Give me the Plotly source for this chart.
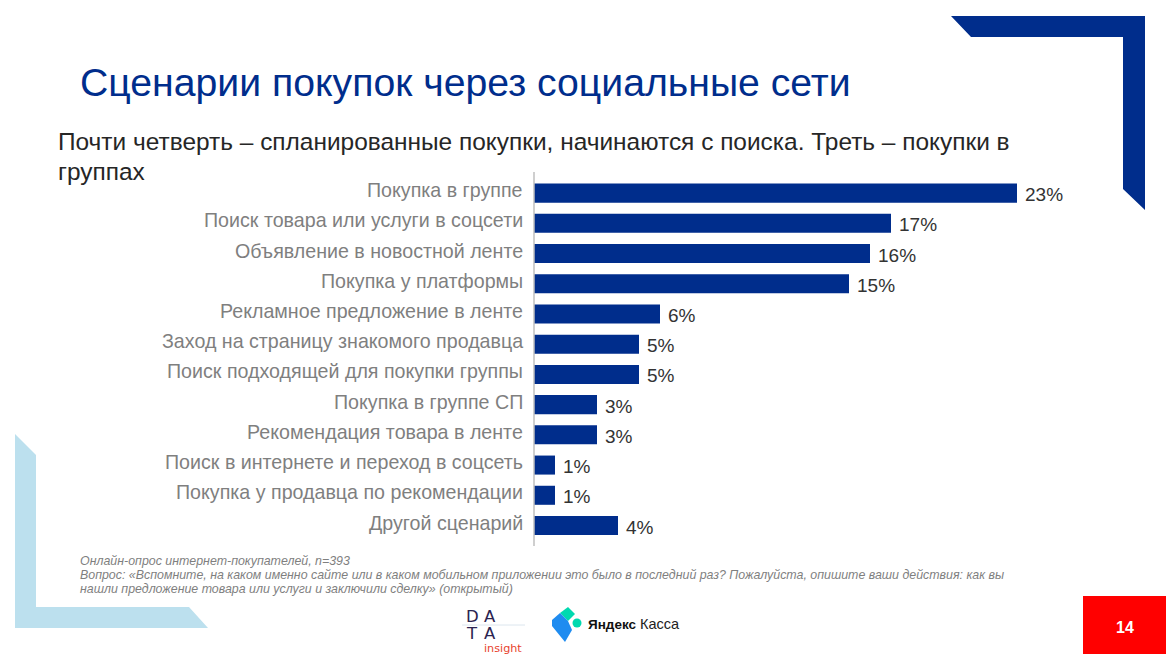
import plotly.graph_objects as go

W, H = 1166, 654
categories = ["Покупка в группе", "Поиск товара или услуги в соцсети", "Объявление в новостной ленте",
              "Покупка у платформы", "Рекламное предложение в ленте", "Заход на страницу знакомого продавца",
              "Поиск подходящей для покупки группы", "Покупка в группе СП", "Рекомендация товара в ленте",
              "Поиск в интернете и переход в соцсеть", "Покупка у продавца по рекомендации", "Другой сценарий"]
values = [23, 17, 16, 15, 6, 5, 5, 3, 3, 1, 1, 4]
NAVY = "#002D8C"
FONT = "Liberation Sans"

def px(x): return x / W
def py(y): return 1 - y / H

def poly(points, color, layer="below"):
    path = "M " + " L ".join(f"{px(x)} {py(y)}" for x, y in points) + " Z"
    return dict(type="path", xref="paper", yref="paper", path=path, fillcolor=color, line_width=0, layer=layer)

shapes = [
    poly([(951, 16), (1145, 16), (1145, 210), (1123, 189), (1123, 37), (971, 37)], NAVY),
    poly([(15, 434), (36, 455), (36, 607), (189, 607), (208, 628), (15, 628)], "#BCE0EE"),
    dict(type="rect", xref="paper", yref="paper", x0=px(1083), x1=px(1166), y0=py(596), y1=py(654),
         fillcolor="#FF0000", line_width=0),
    dict(type="line", xref="paper", yref="paper", x0=px(534), x1=px(534), y0=py(172), y1=py(546),
         line=dict(color="#BFBFBF", width=1.5)),
    dict(type="line", xref="paper", yref="paper", x0=px(462), x1=px(525), y0=py(625), y1=py(625),
         line=dict(color="#DCE6EE", width=1)),
    # Yandex Kassa mark
    poly([(568, 607), (575, 614), (568, 621), (560, 613)], "#00D9B0", "above"),
    poly([(560, 613), (568, 621), (572, 630), (565, 642), (552, 626), (552, 620)], "#1F8CF0", "above"),
    dict(type="circle", xref="paper", yref="paper", x0=px(572.5), x1=px(581.5), y0=py(618.5), y1=py(627.5),
         fillcolor="#00D9B0", line_width=0),
]

# annotation boxes carry 2 px of padding, removed here so x is the ink's left edge
def note(x, y, text, size, color, family=FONT):
    return dict(xref="paper", yref="paper", x=px(x - 2), y=py(y), text=text, showarrow=False, xanchor="left",
                yanchor="middle", align="left", font=dict(family=family, size=size, color=color))

notes = [
    note(80, 83, "Сценарии покупок через социальные сети", 39.2, NAVY),
    note(58, 141, "Почти четверть – спланированные покупки, начинаются с поиска. Треть – покупки в", 24.45, "#262626"),
    note(58, 171, "группах", 24.45, "#262626"),
    note(80, 561, "<i>Онлайн-опрос интернет-покупателей, n=393</i>", 12.4, "#7F7F7F"),
    note(80, 575, "<i>Вопрос: «Вспомните, на каком именно сайте или в каком мобильном приложении это было в последний раз? Пожалуйста, опишите ваши действия: как вы</i>", 12.4, "#7F7F7F"),
    note(80, 589, "<i>нашли предложение товара или услуги и заключили сделку» (открытый)</i>", 12.4, "#7F7F7F"),
    note(1116, 627, "<b>14</b>", 16, "#FFFFFF"),
    note(466, 616, "D", 16.5, "#2B2350", "DejaVu Sans"),
    note(484, 616, "A", 16.5, "#2B2350", "DejaVu Sans"),
    note(466, 633, "T", 16.5, "#2B2350", "DejaVu Sans"),
    note(484, 633, "A", 16.5, "#2B2350", "DejaVu Sans"),
    note(484, 648, "insight", 11.2, "#E8432E", "DejaVu Sans"),
    note(588, 624, "<b>Яндекс</b>", 13.5, "#111111"),
    note(640, 624, "Касса", 14.5, "#222222"),
]

# category labels and value labels sit a few pixels off the bar centres in the reference
for c, v in zip(categories, values):
    notes.append(dict(xref="paper", yref="y", x=px(525), y=c, text=c, showarrow=False, xanchor="right",
                      yanchor="middle", yshift=3, font=dict(family=FONT, size=19.65, color="#7F7F7F")))
    notes.append(dict(xref="x", yref="y", x=v, y=c, text=f"{v}%", showarrow=False, xanchor="left",
                      yanchor="middle", xshift=6, yshift=-1.5, font=dict(family=FONT, size=19, color="#333333")))

fig = go.Figure(go.Bar(
    x=values, y=categories, orientation="h", marker=dict(color=NAVY, line_width=0), width=0.63,
))
fig.update_layout(
    width=W, height=H, margin=dict(l=0, r=0, t=0, b=0), paper_bgcolor="white", plot_bgcolor="white",
    showlegend=False, shapes=shapes, annotations=notes,
    xaxis=dict(domain=[px(534), px(1164)], range=[0, 30], visible=False),
    yaxis=dict(domain=[py(541.5), py(178)], autorange="reversed", showticklabels=False, showline=False, ticks=""),
)
fig.write_html("out.html", post_script="document.body.style.margin='0';", config={"displayModeBar": False})
